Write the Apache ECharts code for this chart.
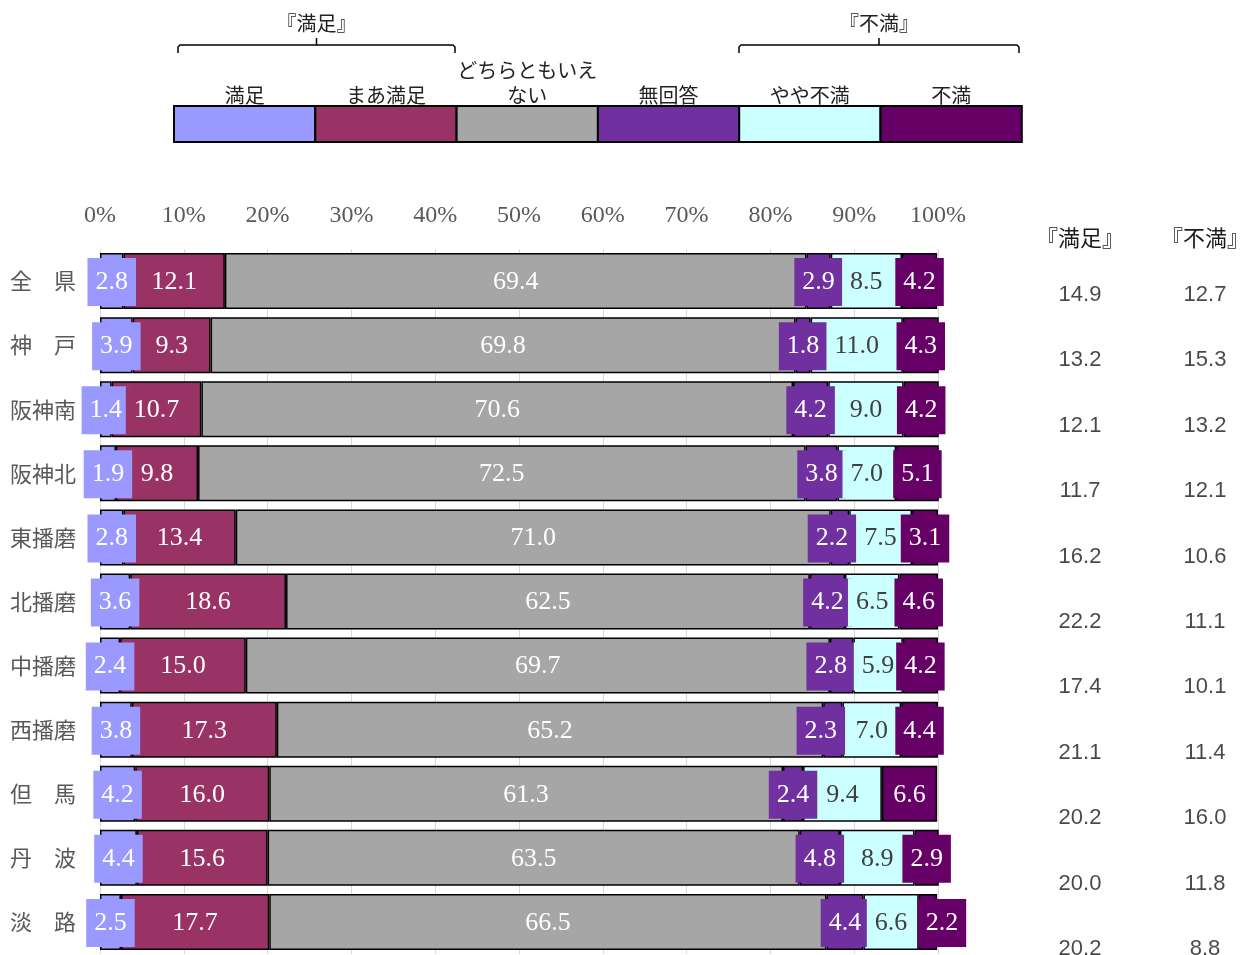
<!DOCTYPE html>
<html>
<head>
<meta charset="utf-8">
<title>満足度 地域別</title>
<style>
	* { margin: 0; padding: 0; }
	#main { width: 1245px; height: 955px; }
</style>
</head>
<body>
<div id="main"></div>
<script src="https://cdn.jsdelivr.net/npm/echarts@6/dist/echarts.min.js"></script>
<script>
	// 地域
	var areas = ['全　県', '神　戸', '阪神南', '阪神北', '東播磨', '北播磨', '中播磨', '西播磨', '但　馬', '丹　波', '淡　路'];
	var seriesNames = ['満足', 'まあ満足', 'どちらともいえない', '無回答', 'やや不満', '不満'];
	var legendLabels = ['満足', 'まあ満足', 'どちらともいえ\nない', '無回答', 'やや不満', '不満'];
	var colors = ['#9999ff', '#993366', '#a6a6a6', '#7030a0', '#ccffff', '#660066'];
	var textColors = ['#fff', '#fff', '#fff', '#fff', '#404040', '#fff'];

	// 構成比 (%)
	var satisfied = [2.8, 3.9, 1.4, 1.9, 2.8, 3.6, 2.4, 3.8, 4.2, 4.4, 2.5];
	var fairlySatisfied = [12.1, 9.3, 10.7, 9.8, 13.4, 18.6, 15.0, 17.3, 16.0, 15.6, 17.7];
	var neutral = [69.4, 69.8, 70.6, 72.5, 71.0, 62.5, 69.7, 65.2, 61.3, 63.5, 66.5];
	var noAnswer = [2.9, 1.8, 4.2, 3.8, 2.2, 4.2, 2.8, 2.3, 2.4, 4.8, 4.4];
	var fairlyDissatisfied = [8.5, 11.0, 9.0, 7.0, 7.5, 6.5, 5.9, 7.0, 9.4, 8.9, 6.6];
	var dissatisfied = [4.2, 4.3, 4.2, 5.1, 3.1, 4.6, 4.2, 4.4, 6.6, 2.9, 2.2];
	var seriesValues = [satisfied, fairlySatisfied, neutral, noAnswer, fairlyDissatisfied, dissatisfied];

	// 右側の集計『満足』『不満』
	var totalHeaders = ['『満足』', '『不満』'];
	var totalSatisfied = [14.9, 13.2, 12.1, 11.7, 16.2, 22.2, 17.4, 21.1, 20.2, 20.0, 20.2];
	var totalDissatisfied = [12.7, 15.3, 13.2, 12.1, 10.6, 11.1, 10.1, 11.4, 16.0, 11.8, 8.8];

	var xTicks = [0, 10, 20, 30, 40, 50, 60, 70, 80, 90, 100];

	// 重なり回避のためずらしたラベル (系列番号 -> {行: px})
	var labelNudge = { 3: { 4: -8, 6: -11, 7: -12 }, 5: { 10: 14 } };

	var chart = echarts.init(document.getElementById('main'));

	var series = seriesNames.map(function (name, i) {
		var nudge = labelNudge[i] || {};
		return {
			name: name,
			type: 'bar',
			stack: 'total',
			barWidth: 56,
			data: seriesValues[i].map(function (v, r) {
				if (nudge[r] === undefined) return v;
				return { value: v, label: { offset: [nudge[r], 1] } };
			}),
			itemStyle: { color: colors[i], borderColor: '#000', borderWidth: 1.5 },
			label: {
				show: true,
				position: 'inside',
				offset: [0, 1],
				formatter: function (p) { return p.value.toFixed(1); },
				fontFamily: '"Liberation Serif", serif',
				fontSize: 26,
				lineHeight: 24,
				color: textColors[i],
				backgroundColor: colors[i],
				padding: [12, 8]
			}
		};
	});

	// 右側の数値
	function totalSeries(col, arr) {
		return {
			type: 'scatter',
			xAxisIndex: 1,
			yAxisIndex: 1,
			symbolSize: 0,
			data: arr.map(function (v, i) { return [col, i, v]; }),
			label: {
				show: true,
				position: 'inside',
				formatter: function (p) { return p.value[2].toFixed(1); },
				fontFamily: '"Liberation Sans", Arial, sans-serif',
				fontSize: 22,
				color: '#1a1a1a'
			},
			silent: true
		};
	}
	series.push(totalSeries(0, totalSatisfied));
	series.push(totalSeries(1, totalDissatisfied));

	// 凡例（上部）
	var graphics = [];
	var boxX = 174, boxW = 141.3, boxY = 106, boxH = 36;
	legendLabels.forEach(function (lab, i) {
		graphics.push({
			type: 'rect',
			shape: { x: boxX + i * boxW, y: boxY, width: boxW, height: boxH },
			style: { fill: colors[i], stroke: '#000', lineWidth: 2 }
		});
		graphics.push({
			type: 'text',
			x: boxX + (i + 0.5) * boxW,
			y: 108,
			style: {
				text: lab,
				align: 'center',
				verticalAlign: 'bottom',
				font: '20px "Noto Sans CJK JP"',
				lineHeight: 25,
				fill: '#222'
			}
		});
	});
	function bracket(x0, x1, label) {
		var mid = (x0 + x1) / 2;
		graphics.push({
			type: 'polyline',
			shape: { points: [[x0, 53], [x0, 47], [x0 + 2, 45], [x1 - 2, 45], [x1, 47], [x1, 53]] },
			style: { stroke: '#000', lineWidth: 1.5, fill: null }
		});
		graphics.push({
			type: 'line',
			shape: { x1: mid, y1: 45, x2: mid, y2: 38 },
			style: { stroke: '#000', lineWidth: 1.5 }
		});
		graphics.push({
			type: 'text',
			x: mid,
			y: 23,
			style: {
				text: label,
				align: 'center',
				verticalAlign: 'middle',
				font: '20px "Noto Sans CJK JP"',
				fill: '#222'
			}
		});
	}
	bracket(178, 455, '『満足』');
	bracket(739, 1019, '『不満』');

	var option = {
		animation: false,
		backgroundColor: '#fff',
		grid: [
			{ left: 100, width: 838, top: 249, height: 705, outerBoundsMode: 'none' },
			{ left: 1017.5, width: 250, top: 262.3, height: 719.4, outerBoundsMode: 'none' }
		],
		xAxis: [
			{
				type: 'value',
				position: 'top',
				min: xTicks[0],
				max: xTicks[xTicks.length - 1],
				interval: 10,
				axisLine: { show: false },
				axisTick: { show: false },
				splitLine: { lineStyle: { color: '#d9d9d9', width: 1 } },
				axisLabel: {
					formatter: '{value}%',
					margin: 21,
					fontFamily: '"Liberation Serif", serif',
					fontSize: 24,
					color: '#595959'
				}
			},
			{
				type: 'category',
				gridIndex: 1,
				position: 'top',
				data: totalHeaders,
				axisLine: { show: false },
				axisTick: { show: false },
				axisLabel: {
					margin: 14,
					fontFamily: '"Noto Sans CJK JP"',
					fontSize: 22,
					color: '#1a1a1a'
				}
			}
		],
		yAxis: [
			{
				type: 'category',
				inverse: true,
				data: areas,
				axisLine: { show: false },
				axisTick: { show: false },
				axisLabel: {
					margin: 24,
					fontFamily: '"Noto Sans CJK JP"',
					fontSize: 22,
					color: '#595959'
				}
			},
			{
				type: 'category',
				gridIndex: 1,
				inverse: true,
				data: areas,
				show: false
			}
		],
		graphic: graphics,
		series: series
	};
	chart.setOption(option);
</script>
</body>
</html>
